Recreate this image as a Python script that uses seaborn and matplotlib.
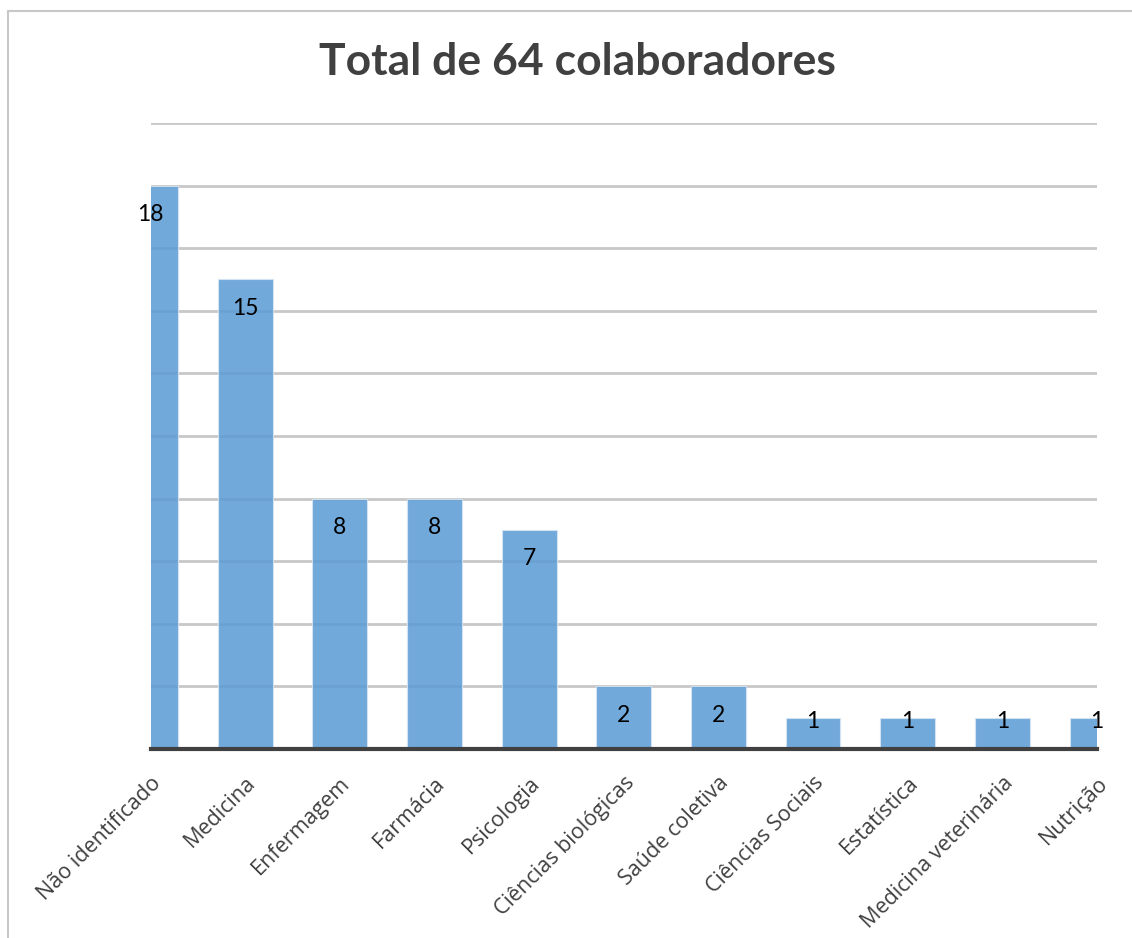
import matplotlib
matplotlib.use("Agg")
import matplotlib.pyplot as plt
import seaborn as sns
import pandas as pd
from matplotlib.lines import Line2D

categories = ["Não identificado", "Medicina", "Enfermagem", "Farmácia", "Psicologia",
              "Ciências biológicas", "Saúde coletiva", "Ciências Sociais", "Estatística",
              "Medicina veterinária", "Nutrição"]
counts = [18, 15, 8, 8, 7, 2, 2, 1, 1, 1, 1]
title = "Total de 64 colaboradores"

df = pd.DataFrame({"area": categories, "n": counts})

sns.set_theme(style="white")
plt.rcParams["font.family"] = ["Open Sans", "DejaVu Sans"]

W, H, DPI = 1132, 938, 100
fig = plt.figure(figsize=(W / DPI, H / DPI), dpi=DPI)
ax = fig.add_axes([150.5 / W, 1 - 749 / H, (1097 - 150.5) / W, (749 - 123) / H])

# horizontal gridlines every 2 units
for g in range(2, 21, 2):
    ax.axhline(g, color="#c8c8c8", lw=2, zorder=0)

sns.barplot(data=df, x="area", y="n", ax=ax, color="#5B9BD5", alpha=0.86,
            width=0.58, saturation=1, edgecolor="#d6e6f5", linewidth=0.8, zorder=2)

ax.set_xlim(0, len(categories) - 1)
ax.set_ylim(0, 20)
ax.set_xlabel("")
ax.set_ylabel("")
ax.set_yticks([])
for s in ["top", "right", "left"]:
    ax.spines[s].set_visible(False)
ax.spines["bottom"].set_color("#404040")
ax.spines["bottom"].set_linewidth(3)
ax.spines["bottom"].set_zorder(5)
ax.tick_params(axis="x", length=0, pad=17)
ax.set_xticks(range(len(categories)))
ax.set_xticklabels(categories, rotation=45, ha="right", rotation_mode="anchor",
                   fontsize=15.5, color="#404040")

# value labels inside the bar ends
px_per_unit = (749 - 123) / 20
for i, v in enumerate(counts):
    h_px = v * px_per_unit
    off = min(29, h_px - 27)
    ax.annotate(str(v), (i, v), xytext=(0, -off * 72 / DPI), textcoords="offset points",
                ha="center", va="center", fontsize=16.5, color="#000000",
                family=["Lato", "DejaVu Sans"], annotation_clip=False, zorder=6)

fig.text(577 / W, 1 - 62 / H, title, ha="center", va="center",
         fontsize=32, fontweight="bold", color="#404040", family=["Lato", "DejaVu Sans"])

# chart area border (top and left edges)
fig.add_artist(Line2D([8 / W, 1.0], [1 - 11 / H, 1 - 11 / H], color="#c8c8c8", lw=1.5,
                      transform=fig.transFigure))
fig.add_artist(Line2D([8 / W, 8 / W], [0.0, 1 - 11 / H], color="#c8c8c8", lw=1.5,
                      transform=fig.transFigure))

fig.savefig("out.png", dpi=DPI, facecolor="white")
